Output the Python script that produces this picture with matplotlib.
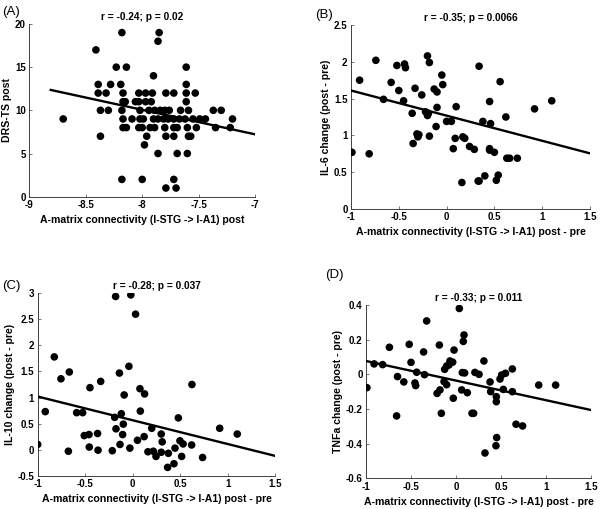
import numpy as np
import matplotlib
matplotlib.use("Agg")
import matplotlib.pyplot as plt

plt.rcParams['font.family'] = ['Liberation Sans', 'DejaVu Sans']

# ---- panel A: DRS-TS post vs A-matrix connectivity post
a_x = [-8.18, -7.85, -7.86, -8.41, -8.23, -8.14, -7.61, -7.90,
       -8.39, -8.28, -8.19, -7.61,
       -8.39, -8.32, -8.17, -8.03, -7.97, -7.91, -7.79, -7.72, -7.61, -7.53,
       -8.17, -8.15, -8.06, -8.03, -7.97, -7.92, -7.61,
       -8.37, -8.30, -8.18, -8.02, -7.94, -7.89, -7.84, -7.80, -7.76, -7.66, -7.59, -7.37, -7.30,
       -8.70, -8.17, -8.09, -8.02, -7.99, -7.90, -7.86, -7.81, -7.77, -7.72, -7.67, -7.62, -7.55, -7.49, -7.44, -7.20,
       -8.17, -8.14, -8.03, -8.00, -7.93, -7.89, -7.80, -7.72, -7.69, -7.60, -7.52, -7.35, -7.22,
       -8.37, -7.96, -7.79, -7.72, -7.59, -7.57,
       -7.98, -7.86, -7.69, -7.60,
       -8.18, -8.00, -7.72, -7.79, -7.70]
a_y = [19, 19, 18, 17, 15, 15, 15, 14,
       13, 13, 13, 13,
       12, 12, 12, 12, 12, 12, 12, 12, 12, 12,
       11, 11, 11, 11, 11, 11, 11,
       10, 10, 10, 10, 10, 10, 10, 10, 10, 10, 10, 10, 10,
       9, 9, 9, 9, 9, 9, 9, 9, 9, 9, 9, 9, 9, 9, 9, 9,
       8, 8, 8, 8, 8, 8, 8, 8, 8, 8, 8, 8, 8,
       7, 7, 7, 7, 7, 7,
       6, 5, 5, 5,
       2, 2, 2, 1, 1]
a_fit_x = [-8.81, -7.0]
a_fit_y = [12.36, 7.22]

# ---- panel B: IL-6 change
b_x = [-0.99, -0.91, -0.81, -0.74, -0.66, -0.58, -0.52, -0.50, -0.45, -0.44,
       -0.43, -0.36, -0.35, -0.33, -0.31, -0.30, -0.29, -0.26, -0.22, -0.20,
       -0.19, -0.20, -0.18, -0.18, -0.13, -0.11, -0.10, -0.10, -0.05, -0.04,
       0.0, 0.05, 0.07, 0.09, 0.10, 0.17, 0.16, 0.19, 0.24, 0.29, 0.34, 0.33,
       0.34, 0.40, 0.38, 0.45, 0.45, 0.45, 0.46, 0.50, 0.52, 0.54, 0.56,
       0.62, 0.63, 0.66, 0.74, 0.92, 1.10]
b_y = [0.77, 1.75, 0.75, 2.02, 1.49, 1.72, 1.95, 1.61, 1.47, 1.97,
       1.92, 1.30, 0.89, 1.64, 1.02, 0.98, 1.01, 1.55, 1.32, 1.27,
       1.30, 2.08, 0.99, 1.99, 1.63, 1.12, 1.59, 1.38, 1.82, 1.69,
       1.19, 1.19, 0.82, 0.96, 1.39, 0.98, 0.36, 0.96, 0.85, 0.81, 1.94,
       0.38, 0.38, 0.45, 1.19, 0.80, 1.46, 0.82, 1.16, 0.77, 0.39, 0.46,
       1.73, 1.25, 0.69, 0.69, 0.69, 1.36, 1.47]
b_x = b_x[:len(b_y)]
b_fit_x = [-1.0, 1.5]
b_fit_y = [1.61, 0.756]

# ---- panel C: IL-10 change
c_x = [-1.00, -0.92, -0.825, -0.755, -0.667, -0.677, -0.59, -0.527, -0.51, -0.46,
       -0.45, -0.457, -0.37, -0.365, -0.337, -0.215, -0.19, -0.176, -0.18, -0.14,
       -0.134, -0.12, -0.106, -0.099, -0.09, -0.03, -0.04, -0.02, 0.03, 0.05,
       0.076, 0.08, 0.12, 0.125, 0.16, 0.20, 0.217, 0.245, 0.30, 0.31,
       0.30, 0.375, 0.367, 0.434, 0.445, 0.48, 0.497, 0.515, 0.53, 0.62,
       0.623, 0.735, 0.915, 1.10]
c_y = [0.10, 0.73, 1.78, 1.36, 1.49, -0.03, 0.71, 0.71, 0.27, 0.29,
       1.19, 0.05, 0.31, -0.01, 1.31, -0.02, 0.62, 0.40, 2.94, 1.47,
       0.10, 0.69, 0.29, 0.49, 1.05, 0.03, 1.60, 2.97, 2.60, 0.18,
       1.17, 0.74, 0.25, 1.07, -0.04, 0.41, -0.03, -0.13, 0.30, 0.15,
       -0.05, -0.07, -0.34, -0.27, 0.03, 0.61, 0.17, -0.13, 0.11, 0.09,
       1.25, -0.15, 0.41, 0.30]
c_fit_x = [-1.0, 1.5]
c_fit_y = [1.02, -0.12]

# ---- panel D: TNFa change
d_x = [-0.99, -0.91, -0.815, -0.74, -0.66, -0.65, -0.58, -0.52, -0.50, -0.456,
       -0.448, -0.437, -0.36, -0.35, -0.326, -0.21, -0.185, -0.178, -0.163, -0.133,
       -0.126, -0.104, -0.104, -0.078, -0.067, -0.037, -0.03, -0.022, 0.037, 0.07,
       0.063, 0.089, 0.081, 0.096, 0.126, 0.178, 0.196, 0.21, 0.256, 0.31,
       0.322, 0.378, 0.385, 0.448, 0.448, 0.452, 0.444, 0.489, 0.507, 0.526,
       0.55, 0.626, 0.626, 0.667, 0.74, 0.919, 1.107]
d_y = [-0.077, 0.06, 0.056, 0.156, -0.24, -0.013, -0.044, 0.173, 0.069, -0.05,
       -0.065, 0.012, 0.129, -0.002, 0.308, -0.11, 0.169, -0.09, -0.225, -0.042,
       0.029, 0.048, -0.06, 0.054, 0.077, 0.07, -0.138, 0.14, 0.38, 0.01,
       -0.09, 0.227, 0.19, 0.008, -0.106, -0.225, -0.225, 0.011, 0.0, 0.077,
       -0.454, -0.044, -0.10, -0.129, -0.158, -0.365, -0.412, -0.027, -0.004, -0.087,
       0.006, 0.031, -0.10, -0.288, -0.298, -0.062, -0.062]
d_fit_x = [-1.0, 1.5]
d_fit_y = [0.077, -0.206]

xlab_post = "A-matrix connectivity (l-STG -> l-A1) post"
xlab_diff = "A-matrix connectivity (l-STG -> l-A1) post - pre"

fig = plt.figure(figsize=(6, 5.09), dpi=100)

panels = [
    # rect, x, y, fit, xlim, ylim, xticks, yticks, title, xlabel, ylabel, letter, letter pos
    ([0.0489, 0.6136, 0.3762, 0.3393], a_x, a_y, (a_fit_x, a_fit_y), (-9, -7), (0, 20),
     [-9, -8.5, -8, -7.5, -7], [0, 5, 10, 15, 20], "r = -0.24; p = 0.02",
     xlab_post, "DRS-TS post", "(A)", (0.003, 0.988)),
    ([0.585, 0.5894, 0.3983, 0.3615], b_x, b_y, (b_fit_x, b_fit_y), (-1, 1.5), (0, 2.5),
     [-1, -0.5, 0, 0.5, 1, 1.5], [0, 0.5, 1, 1.5, 2, 2.5], "r = -0.35; p = 0.0066",
     xlab_diff, "IL-6 change (post - pre)", "(B)", (0.525, 0.983)),
    ([0.0628, 0.0654, 0.396, 0.3583], c_x, c_y, (c_fit_x, c_fit_y), (-1, 1.5), (-0.5, 3),
     [-1, -0.5, 0, 0.5, 1, 1.5], [-0.5, 0, 0.5, 1, 1.5, 2, 2.5, 3], "r = -0.28; p = 0.037",
     xlab_diff, "IL-10 change (post - pre)", "(C)", (0.003, 0.45)),
    ([0.61, 0.0603, 0.375, 0.3405], d_x, d_y, (d_fit_x, d_fit_y), (-1, 1.5), (-0.6, 0.4),
     [-1, -0.5, 0, 0.5, 1, 1.5], [-0.6, -0.4, -0.2, 0, 0.2, 0.4], "r = -0.33; p = 0.011",
     xlab_diff, "TNFa change (post - pre)", "(D)", (0.542, 0.472)),
]

for rect, x, y, fit, xlim, ylim, xt, yt, title, xl, yl, letter, lpos in panels:
    ax = fig.add_axes(rect)
    ax.scatter(x, y, s=30, color="black", edgecolors="none", zorder=3)
    ax.plot(fit[0], fit[1], color="black", linewidth=1.7, zorder=4)
    ax.set_xlim(xlim)
    ax.set_ylim(ylim)
    ax.set_xticks(xt)
    ax.set_yticks(yt)
    ax.set_xticklabels([f"{v:g}" for v in xt])
    ax.set_yticklabels([f"{v:g}" for v in yt])
    for s in ["top", "right"]:
        ax.spines[s].set_visible(False)
    for s in ["left", "bottom"]:
        ax.spines[s].set_linewidth(0.7)
        ax.spines[s].set_color("#404040")
    ax.tick_params(direction="in", length=2, width=0.5, labelsize=7, pad=2.5,
                   color="#404040")
    for lab in ax.get_xticklabels() + ax.get_yticklabels():
        lab.set_fontweight("bold")
    ax.set_title(title, fontsize=7.3, fontweight="bold", pad=3)
    ax.set_xlabel(xl, fontsize=7.6, fontweight="bold", labelpad=3.5)
    ax.set_ylabel(yl, fontsize=7.6, fontweight="bold", labelpad=2)
    fig.text(lpos[0], lpos[1], letter, fontsize=9.5, ha="left", va="top")

plt.savefig("out.png", dpi=100)
